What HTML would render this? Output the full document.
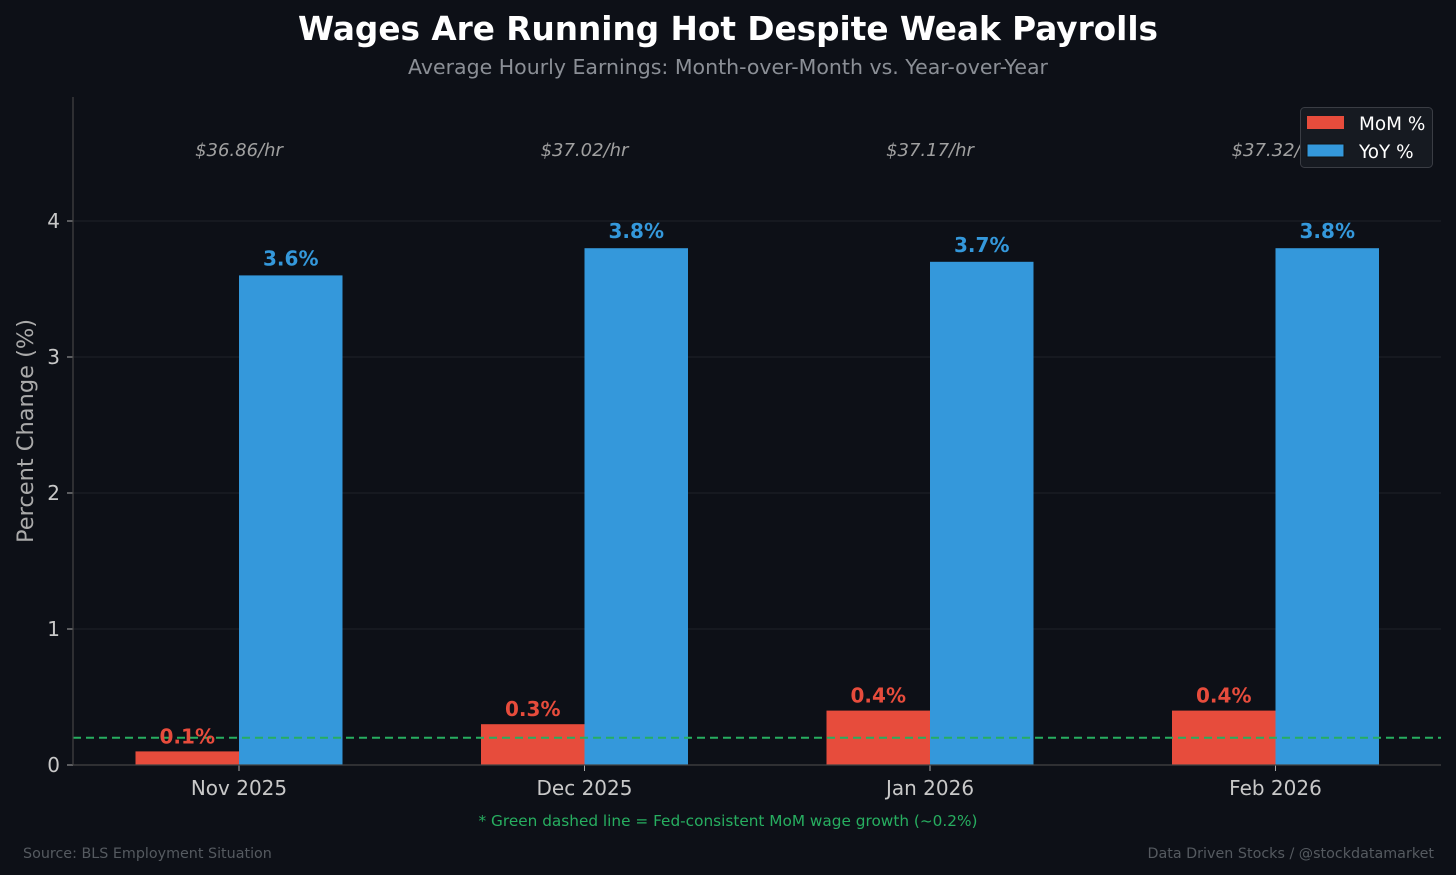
<!DOCTYPE html>
<html><head><meta charset="utf-8"><style>
html,body{margin:0;padding:0;background:#0d1017;}
svg{display:block;font-family:"DejaVu Sans","Liberation Sans",sans-serif;}
</style></head><body>
<svg id="chart" width="1456" height="875" viewBox="0 0 1456 875">
<rect width="1456" height="875" fill="#0d1017"/>
<text x="728" y="40" text-anchor="middle" fill="#ffffff" font-size="32.7" font-weight="bold">Wages Are Running Hot Despite Weak Payrolls</text>
<text x="728" y="74" text-anchor="middle" fill="#8b8f96" font-size="20.5">Average Hourly Earnings: Month-over-Month vs. Year-over-Year</text>
<g id="grid"></g>
<g id="bars"></g>
<g id="labels"></g>
<line x1="73" y1="97" x2="73" y2="765" stroke="#444" stroke-width="1.2"/>
<line x1="73" y1="765" x2="1441" y2="765" stroke="#444" stroke-width="1.2"/>
<text transform="translate(33,431) rotate(-90)" text-anchor="middle" fill="#aaaaaa" font-size="22.5">Percent Change (%)</text>
<g>
<rect x="1300.5" y="107.5" width="132" height="60" rx="4" fill="#161a21" stroke="#3a3d44"/>
<rect x="1307" y="116" width="37" height="13" fill="#e74c3c"/>
<text x="1359" y="130" fill="#ffffff" font-size="18.4">MoM %</text>
<rect x="1307" y="144" width="37" height="13" fill="#3498db" stroke="#111"/>
<text x="1359" y="158" fill="#ffffff" font-size="18.4">YoY %</text>
</g>
<text x="728" y="826" text-anchor="middle" fill="#27ae60" font-size="15.3">* Green dashed line = Fed-consistent MoM wage growth (~0.2%)</text>
<text x="23" y="858" fill="#555a60" font-size="14.3">Source: BLS Employment Situation</text>
<text x="1434" y="858" text-anchor="end" fill="#555a60" font-size="14.3">Data Driven Stocks / @stockdatamarket</text>
</svg>
<script>
const categories = ["Nov 2025","Dec 2025","Jan 2026","Feb 2026"];
const momValues = [0.1,0.3,0.4,0.4];
const yoyValues = [3.6,3.8,3.7,3.8];
const earnings = ["$36.86/hr","$37.02/hr","$37.17/hr","$37.32/hr"];
const yTicks = [0,1,2,3,4];
const fedLine = 0.2;

const NS="http://www.w3.org/2000/svg";
const y0=765, pxPerUnit=136, x0=239, step=345.5, bw=103.5;
const yS=v=>y0-v*pxPerUnit;
const xS=i=>x0+i*step;
function mk(tag,attrs,parent,text){const e=document.createElementNS(NS,tag);for(const k in attrs)e.setAttribute(k,attrs[k]);if(text!==undefined)e.textContent=text;parent.appendChild(e);return e;}
const grid=document.getElementById('grid'),bars=document.getElementById('bars'),labels=document.getElementById('labels');
yTicks.forEach(t=>{
  const y=yS(t);
  if(t>0){const g=mk('line',{x1:73,x2:1441,y1:y,y2:y,stroke:'#1e2229','stroke-width':1},grid);
  
  }
  const tk=mk('line',{x1:67,x2:73,y1:y,y2:y,stroke:'#aaa'},grid);
  
  
  const tl=mk('text',{x:60,y:y+7,'text-anchor':'end',fill:'#c8c8c8','font-size':20},grid,String(t));
  
  
});
categories.forEach((c,i)=>{
  const cx=xS(i);
  const m=mk('rect',{x:cx-bw,y:yS(momValues[i]),width:bw,height:momValues[i]*pxPerUnit,fill:'#e74c3c'},bars);
  
  
  const b=mk('rect',{x:cx,y:yS(yoyValues[i]),width:bw,height:yoyValues[i]*pxPerUnit,fill:'#3498db'},bars);
  
  
  const tk=mk('line',{x1:cx,x2:cx,y1:765,y2:771,stroke:'#aaa'},labels);
  
  
  const xl=mk('text',{x:cx,y:795,'text-anchor':'middle',fill:'#c8c8c8','font-size':20},labels,c);
  
  
  const ml=mk('text',{x:cx-bw/2,y:yS(momValues[i])-8,'text-anchor':'middle',fill:'#e74c3c','font-size':20,'font-weight':'bold'},labels,momValues[i].toFixed(1)+'%');
  
  
  const yl=mk('text',{x:cx+bw/2,y:yS(yoyValues[i])-10,'text-anchor':'middle',fill:'#3498db','font-size':20,'font-weight':'bold'},labels,yoyValues[i].toFixed(1)+'%');
  
  
  const el=mk('text',{x:cx,y:156,'text-anchor':'middle',fill:'#a0a0a0','font-size':18,'font-style':'italic'},labels,earnings[i]);
  
  
});
const fl=mk('line',{x1:73,x2:1441,y1:yS(fedLine),y2:yS(fedLine),stroke:'#27ae60','stroke-width':2,'stroke-dasharray':'8,5'},labels);


labels.parentNode.insertBefore(fl, bars.nextSibling);
</script>
</body></html>
